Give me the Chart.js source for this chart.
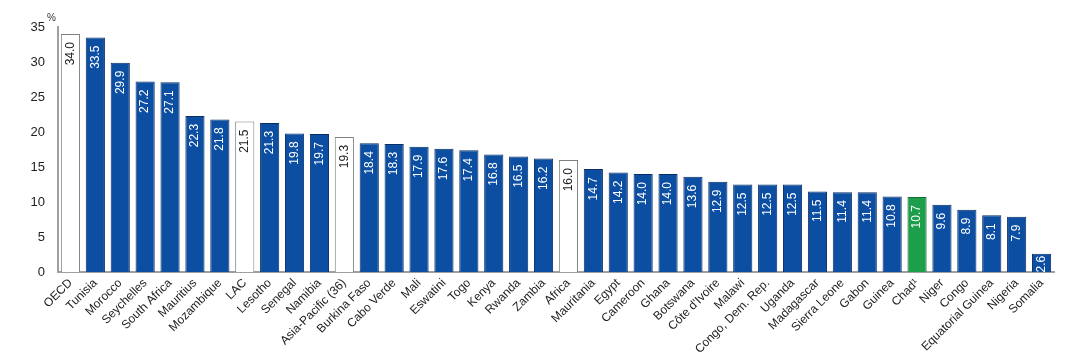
<!DOCTYPE html>
<html>
<head>
<meta charset="utf-8">
<script src="https://cdn.jsdelivr.net/npm/chart.js@4/dist/chart.umd.min.js"></script>
<style>
  html, body { margin: 0; padding: 0; background: #fff; }
  #wrap { width: 1074px; height: 364px; }
</style>
</head>
<body>
<div id="wrap"><canvas id="chart" width="1074" height="364"></canvas></div>
<script>
// --- DATA ---
const countries = ['OECD', 'Tunisia', 'Morocco', 'Seychelles', 'South Africa', 'Mauritius', 'Mozambique',
  'LAC', 'Lesotho', 'Senegal', 'Namibia', 'Asia-Pacific (36)', 'Burkina Faso', 'Cabo Verde', 'Mali',
  'Eswatini', 'Togo', 'Kenya', 'Rwanda', 'Zambia', 'Africa', 'Mauritania', 'Egypt', 'Cameroon', 'Ghana',
  'Botswana', "Côte d'Ivoire", 'Malawi', 'Congo, Dem. Rep.', 'Uganda', 'Madagascar', 'Sierra Leone',
  'Gabon', 'Guinea', 'Chad¹', 'Niger', 'Congo', 'Equatorial Guinea', 'Nigeria', 'Somalia'];
const shares = [34.0, 33.5, 29.9, 27.2, 27.1, 22.3, 21.8, 21.5, 21.3, 19.8, 19.7, 19.3, 18.4, 18.3, 17.9,
  17.6, 17.4, 16.8, 16.5, 16.2, 16.0, 14.7, 14.2, 14.0, 14.0, 13.6, 12.9, 12.5, 12.5, 12.5, 11.5, 11.4,
  11.4, 10.8, 10.7, 9.6, 8.9, 8.1, 7.9, 2.6];
const aggregates = ['OECD', 'LAC', 'Asia-Pacific (36)', 'Africa'];
const highlight = ['Chad¹'];
const yTicks = [0, 5, 10, 15, 20, 25, 30, 35];

// --- STYLE ---
const BLUE = '#0b4ea2', BLUE_EDGE = '#0a2e63';
const GREEN = '#1d9e4a', GREEN_EDGE = '#1a6b35';
const FONT = '"Liberation Sans Narrow", "Liberation Sans", Arial, sans-serif';

function fillFor(name) {
  if (aggregates.includes(name)) return '#ffffff';
  if (highlight.includes(name)) return GREEN;
  return BLUE;
}
function edgeFor(name) {
  if (aggregates.includes(name)) return '#808080';
  if (highlight.includes(name)) return GREEN_EDGE;
  return BLUE_EDGE;
}

// value labels, rotated inside the top of each bar
const barLabels = {
  id: 'barLabels',
  afterDatasetsDraw(chart) {
    const ctx = chart.ctx;
    const meta = chart.getDatasetMeta(0);
    ctx.save();
    ctx.font = '12px ' + FONT;
    ctx.textAlign = 'right';
    ctx.textBaseline = 'middle';
    meta.data.forEach((bar, i) => {
      const txt = shares[i].toFixed(1);
      const w = ctx.measureText(txt).width;
      const h = bar.base - bar.y;
      // short bars: pull the label up so it stays inside
      const off = Math.max(2, Math.min(8, h - w - 3));
      ctx.save();
      ctx.translate(bar.x, bar.y + off);
      ctx.rotate(-Math.PI / 2);
      ctx.fillStyle = aggregates.includes(countries[i]) ? '#222' : '#fff';
      ctx.fillText(txt, 0, 0);
      ctx.restore();
    });
    // unit marker
    ctx.font = '10px ' + FONT;
    ctx.fillStyle = '#333';
    ctx.textAlign = 'left';
    ctx.fillText('%', 47, 18);
    ctx.restore();
  }
};

new Chart(document.getElementById('chart'), {
  type: 'bar',
  data: {
    labels: countries,
    datasets: [{
      data: shares,
      backgroundColor: countries.map(fillFor),
      borderColor: countries.map(edgeFor),
      borderWidth: 1,
      barPercentage: 0.77,
      categoryPercentage: 1.0
    }]
  },
  options: {
    responsive: false,
    animation: false,
    layout: { padding: { top: 27, right: 20, left: 0, bottom: 0 } },
    plugins: { legend: { display: false }, tooltip: { enabled: false } },
    scales: {
      x: {
        grid: { display: false, drawTicks: false },
        border: { color: '#a0a0a0', width: 2 },
        ticks: {
          autoSkip: false, minRotation: 45, maxRotation: 45, padding: 4,
          color: '#222', font: { family: FONT, size: 12 }
        },
        afterFit(scale) { scale.height = 92; }
      },
      y: {
        min: 0, max: 35,
        afterBuildTicks(scale) { scale.ticks = yTicks.map(v => ({ value: v })); },
        grid: { display: false, drawTicks: false },
        border: { color: '#a0a0a0', width: 2 },
        ticks: { padding: 13, color: '#222', font: { family: FONT, size: 13 } },
        afterFit(scale) { scale.width = 58; }
      }
    }
  },
  plugins: [barLabels]
});
</script>
</body>
</html>
